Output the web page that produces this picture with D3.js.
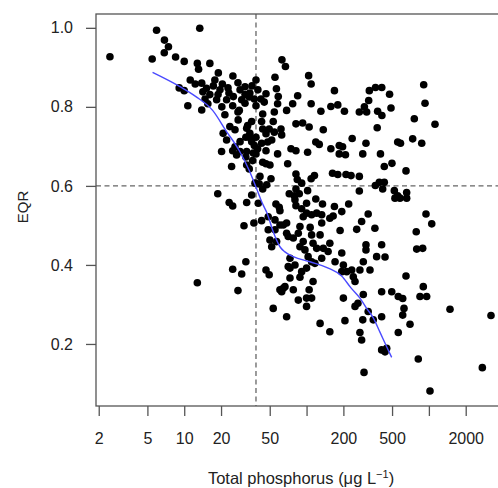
<!DOCTYPE html>
<html><head><meta charset="utf-8">
<script src="https://cdn.jsdelivr.net/npm/d3@7"></script>
<style>body{margin:0;background:#fff}svg{display:block;font-family:"Liberation Sans",Arial,sans-serif}</style>
</head><body><svg id="c" width="498" height="488"></svg>
<script>
// Total phosphorus (µg/L) for each site
const tp = [2.47,5.94,5.47,6.89,7.43,6.87,8.50,10.0,13.4,9.10,10.0,10.7,11.2,12.3,12.8,13.1,12.8,
16.2,19.0,25.0,13.9,15.2,17.3,19.6,16.2,14.8,13.9,18.4,22.2,25.2,28.6,31.4,29.5,21.5,23.6,27.6,32.4,20.8,22.2,26.0,20.2,26.8,24.4,32.4,32.4,20.5,
34.4,31.4,35.6,26.0,34.4,28.6,35.6,28.6,36.7,28.2,24.9,31.9,34.0,18.8,23.3,24.9,32.4,35.6,30.8,37.1,42.9,24.9,29.5,31.9,27.5,
62.9,67.2,38.6,55.2,56.7,84.6,34.0,37.4,42.4,46.6,45.1,38.6,58.0,68.7,77.0,58.7,54.5,43.8,33.0,42.9,53.4,43.8,49.5,46.6,54.5,61.8,62.6,81.9,
35.1,38.6,37.4,39.8,48.1,51.9,42.9,46.6,38.6,36.2,58.0,74.6,81.9,43.8,46.6,50.2,70.1,51.2,41.6,81.9,84.0,91.2,41.0,43.8,72.2,79.4,81.9,
56.2,59.8,81.9,37.9,47.2,40.3,60.6,48.6,55.2,60.6,68.7,48.6,55.2,50.2,56.9,51.9,68.7,46.6,49.5,60.6,66.6,62.6,53.4,68.7,70.8,80.4,31.9,24.9,
104,109,169,109,131,158,180,204,326,366,412,477,322,297,270,310,381,413,490,378,92.9,105,137,236,306,119,127,158,185,197,185,208,288,402,556,102,
499,432,163,180,210,231,270,116,109,365,393,432,419,522,556,270,87.2,102,119,135,221,169,100,194,580,658,528,658,
907,930,760,1122,737,874,586,650,947,1055,788,795,890,411,438,650,411,497,562,611,900,846,959,1488,3219,626,611,411,701,562,411,438,452,819,2735,1021,295,
91.2,319,282,362,257,188,110,121,133,93.9,100,155,165,133,64.5,88.3,107,85.6,70.8,77.9,110,129,93.9,88.3,97.0,113,121,137,155,150,194,306,306,374,291,
73.2,80.4,73.2,103,110,117,100,91.2,133,171,200,194,213,234,273,330,241,249,73.2,88.3,113,64.5,77.9,105,200,291,85.6,100,110,100,249,263,319,351,129,206,288,155,273,282,
17.8,22.8,27.5,14.2,18.9,23.2,35.8,40.0,31.4,20.3,27.5,15.6];
// Ecological quality ratio for each site
const eqr = [0.927,0.994,0.921,0.969,0.952,0.937,0.926,0.915,0.999,0.848,0.841,0.803,0.868,0.858,0.910,0.895,0.355,
0.910,0.886,0.878,0.860,0.847,0.853,0.843,0.831,0.820,0.792,0.818,0.818,0.826,0.843,0.851,0.818,0.780,0.750,0.767,0.746,0.733,0.716,0.699,0.687,0.678,0.649,0.687,0.653,0.858,
0.835,0.809,0.763,0.742,0.733,0.712,0.712,0.687,0.683,0.791,0.803,0.723,0.643,0.580,0.558,0.549,0.558,0.577,0.499,0.506,0.512,0.389,0.377,0.408,0.335,
0.919,0.902,0.868,0.875,0.846,0.828,0.825,0.820,0.820,0.833,0.812,0.803,0.808,0.791,0.808,0.826,0.787,0.782,0.753,0.763,0.763,0.744,0.744,0.732,0.736,0.744,0.729,0.757,
0.719,0.723,0.702,0.694,0.711,0.716,0.708,0.689,0.681,0.664,0.681,0.694,0.689,0.660,0.656,0.653,0.656,0.618,0.624,0.630,0.616,0.607,0.605,0.592,0.580,0.575,0.592,
0.554,0.546,0.550,0.607,0.603,0.556,0.537,0.522,0.514,0.501,0.506,0.489,0.489,0.463,0.459,0.446,0.480,0.387,0.375,0.337,0.345,0.332,0.290,0.269,0.396,0.565,0.673,0.689,
0.879,0.858,0.841,0.808,0.789,0.801,0.805,0.789,0.841,0.849,0.849,0.832,0.816,0.800,0.787,0.787,0.789,0.778,0.797,0.747,0.759,0.749,0.742,0.720,0.708,0.711,0.705,0.694,0.702,0.699,0.681,0.679,0.681,0.681,0.711,0.685,
0.657,0.649,0.632,0.629,0.629,0.626,0.624,0.626,0.618,0.601,0.609,0.609,0.592,0.588,0.575,0.587,0.580,0.588,0.567,0.554,0.554,0.548,0.556,0.535,0.569,0.583,0.569,0.569,
0.856,0.809,0.770,0.756,0.719,0.708,0.708,0.638,0.529,0.504,0.484,0.440,0.442,0.451,0.420,0.372,0.332,0.332,0.320,0.315,0.345,0.320,0.320,0.288,0.272,0.290,0.273,0.269,0.250,0.229,0.185,0.180,0.189,0.162,0.140,0.081,0.128,
0.542,0.529,0.510,0.493,0.490,0.487,0.527,0.531,0.527,0.522,0.531,0.518,0.524,0.506,0.501,0.497,0.495,0.480,0.472,0.468,0.476,0.476,0.459,0.446,0.438,0.455,0.442,0.442,0.455,0.434,0.430,0.451,0.438,0.421,0.408,
0.417,0.400,0.392,0.421,0.408,0.404,0.392,0.383,0.417,0.408,0.400,0.383,0.383,0.387,0.387,0.387,0.370,0.358,0.367,0.369,0.358,0.341,0.337,0.337,0.316,0.325,0.311,0.316,0.316,0.295,0.295,0.303,0.282,0.261,0.252,0.259,0.261,0.231,0.229,0.210,
0.868,0.848,0.861,0.838,0.831,0.835,0.853,0.843,0.831,0.800,0.787,0.808];
// Smoothed (loess) fit
const fitTP  = [5.51,9.22,12.46,17.07,21.9,28.2,34.0,38.6,43.8,47.4,53.4,60.6,66.6,77.9,106.6,150.4,193.6,230.7,273.3,310,351,398,451.8,496.5];
const fitEQR = [0.887,0.851,0.826,0.791,0.740,0.689,0.639,0.597,0.554,0.532,0.484,0.446,0.433,0.421,0.408,0.392,0.372,0.342,0.316,0.290,0.266,0.230,0.193,0.166];
const xTicks = [2,5,10,20,50,100,200,500,1000,2000];
const xTickLabels = ["2","5","10","20","50","","200","500","","2000"];
const yTicks = [0.2,0.4,0.6,0.8,1.0];
const yTickLabels = ["0.2","0.4","0.6","0.8","1.0"];
const refTP = 38.6, refEQR = 0.6;

const svg = d3.select("#c");
const L=96,R=505,T=14,B=406;
const x = d3.scaleLog().domain([1.9,4190]).range([L,R]);
const y = d3.scaleLinear().domain([0.043,1.035]).range([B,T]);
const axisCol = "#555", textCol = "#222";

// reference lines
svg.append("line").attr("x1",x(refTP)).attr("x2",x(refTP)).attr("y1",T).attr("y2",B)
  .attr("stroke","#666").attr("stroke-width",1.3).attr("stroke-dasharray","5,3.5");
svg.append("line").attr("x1",L).attr("x2",R).attr("y1",y(refEQR)).attr("y2",y(refEQR))
  .attr("stroke","#666").attr("stroke-width",1.3).attr("stroke-dasharray","5,3.5");

// points
svg.append("g").selectAll("circle").data(tp.map((d,i)=>[d,eqr[i]])).join("circle")
  .attr("cx",d=>x(d[0])).attr("cy",d=>y(d[1])).attr("r",3.8).attr("fill","#000");

// fit line
svg.append("path").datum(fitTP.map((d,i)=>[d,fitEQR[i]]))
  .attr("d",d3.line().x(d=>x(d[0])).y(d=>y(d[1])).curve(d3.curveMonotoneX))
  .attr("fill","none").attr("stroke","#4a4aff").attr("stroke-width",1.4);

// frame
svg.append("rect").attr("x",L).attr("y",T).attr("width",R-L).attr("height",B-T)
  .attr("fill","none").attr("stroke",axisCol).attr("stroke-width",1.3);

// axes
const xa = svg.append("g").attr("transform",`translate(0,${B})`)
  .call(d3.axisBottom(x).tickValues(xTicks).tickFormat((d,i)=>xTickLabels[i]).tickSize(10).tickPadding(17));
const ya = svg.append("g").attr("transform",`translate(${L},0)`)
  .call(d3.axisLeft(y).tickValues(yTicks).tickFormat((d,i)=>yTickLabels[i]).tickSize(10).tickPadding(13));
[xa,ya].forEach(g=>{
  g.select(".domain").remove();
  g.selectAll(".tick line").attr("stroke",axisCol).attr("stroke-width",1.3);
  g.selectAll(".tick text").attr("fill",textCol).style("font-size","16px").style("font-family",'"Liberation Sans",Arial,sans-serif');
});

// titles
const xt = svg.append("text").attr("x",301).attr("y",484).attr("text-anchor","middle")
  .attr("fill",textCol).style("font-size","16.5px");
xt.append("tspan").text("Total phosphorus (\u03bcg L");
xt.append("tspan").attr("dy",-6).style("font-size","11px").text("\u22121");
xt.append("tspan").attr("dy",6).text(")");
svg.append("text").attr("transform","translate(28,207) rotate(-90)").attr("text-anchor","middle")
  .attr("fill",textCol).style("font-size","15px").text("EQR");
</script></body></html>
